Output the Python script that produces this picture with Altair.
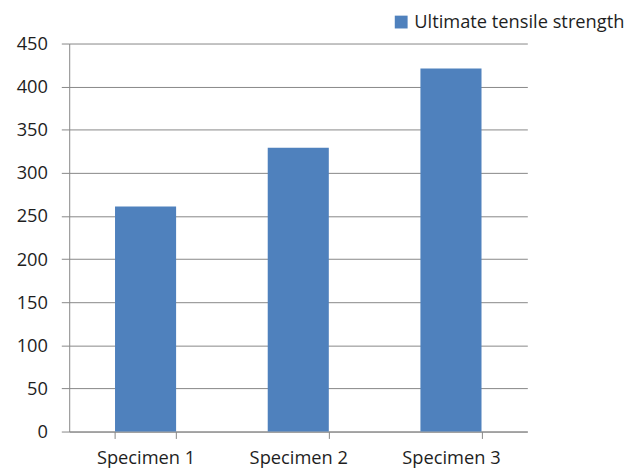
import altair as alt
import pandas as pd

categories = ["Specimen 1", "Specimen 2", "Specimen 3"]
values = [261, 329, 421]
series_name = "Ultimate tensile strength"
y_ticks = [0, 50, 100, 150, 200, 250, 300, 350, 400, 450]

df = pd.DataFrame({"Specimen": categories, "Value": values, "Series": [series_name] * 3})

FONT = "Open Sans"
TXT = "#1e1e1e"
GRAY = "#868686"
FS = 18.5

chart = alt.Chart(df).mark_bar(color="#4F81BD").encode(
    x=alt.X("Specimen:N", sort=categories, title=None,
            scale=alt.Scale(paddingInner=0.6, paddingOuter=0.3),
            axis=alt.Axis(labelAngle=0, tickBand="extent", tickSize=7, tickColor=GRAY,
                          domainColor=GRAY, labelPadding=10, labelFontSize=FS,
                          labelColor=TXT, labelFont=FONT, grid=False)),
    y=alt.Y("Value:Q", title=None,
            scale=alt.Scale(domain=[0, 450], nice=False),
            axis=alt.Axis(values=y_ticks, tickSize=8, tickColor=GRAY, domainColor=GRAY,
                          gridColor=GRAY, gridWidth=1, labelPadding=14, labelFontSize=FS,
                          labelColor=TXT, labelFont=FONT)),
    fill=alt.Fill("Series:N", scale=alt.Scale(range=["#4F81BD"]),
                  legend=alt.Legend(title=None, orient="none", legendX=327, legendY=-31,
                                    symbolType="square", symbolSize=169, labelFontSize=FS,
                                    labelFont=FONT, labelColor=TXT, symbolStrokeWidth=0,
                                    labelOffset=4, padding=0, labelLimit=400)),
).properties(
    width=464,
    height=393,
    autosize=alt.AutoSizeParams(type="none"),
    padding={"left": 62, "top": 33, "right": 104, "bottom": 39},
).configure_view(stroke=None).configure_axis(domainWidth=1, tickWidth=1)

chart.save("out.html", embed_options={"renderer": "svg", "actions": False})
